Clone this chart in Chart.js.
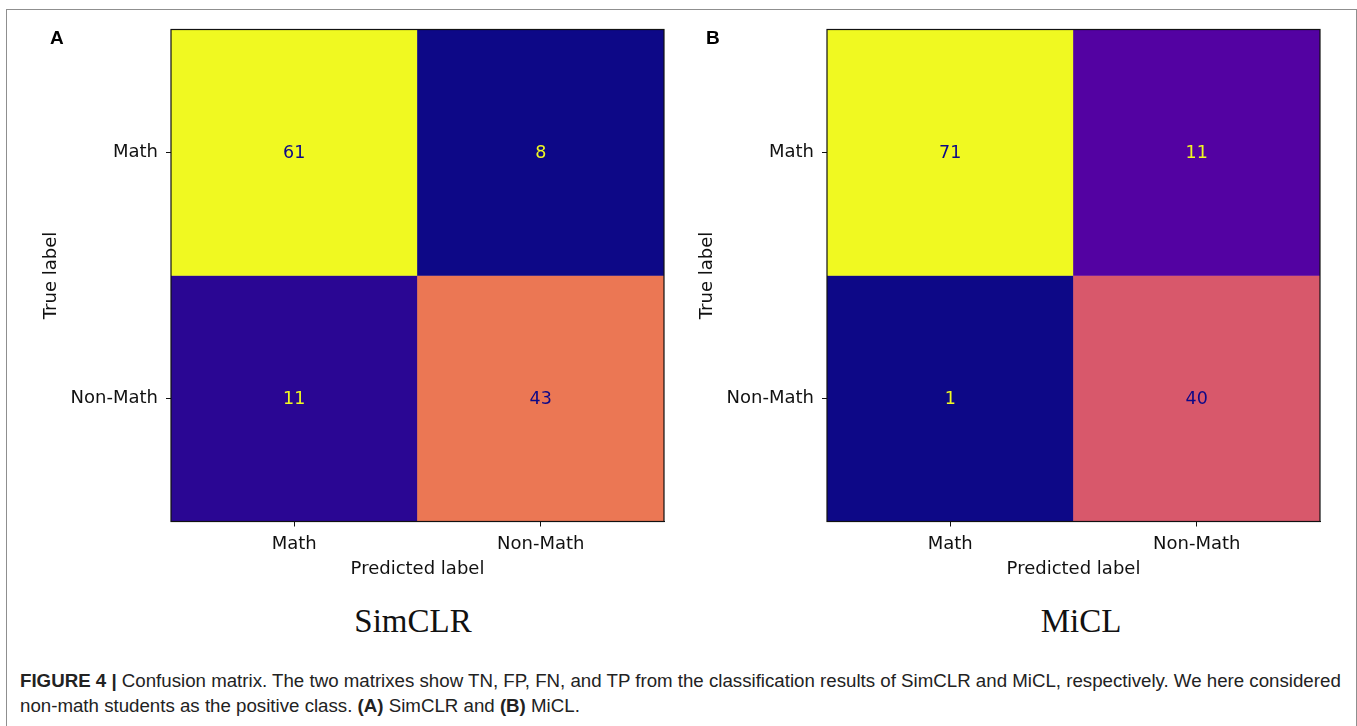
<!DOCTYPE html>
<html>
<head>
<meta charset="utf-8">
<script src="https://cdn.jsdelivr.net/npm/chart.js@4.4.1/dist/chart.umd.min.js"></script>
<style>
  html, body { margin: 0; padding: 0; background: #fff; width: 1357px; height: 726px; overflow: hidden; }
  #frame { position: absolute; left: 6px; top: 9px; width: 1351px; height: 760px; border: 1.5px solid #8f8f8f; box-sizing: border-box; }
  .panel { position: absolute; top: 0; width: 680px; height: 583px; }
  .tag { position: absolute; top: 27px; font: bold 19px "Liberation Sans", Arial, sans-serif; color: #000; }
  .model { position: absolute; top: 605px; font: 33px/33px "Liberation Serif", "Times New Roman", serif; color: #111; transform: translateX(-50%); white-space: nowrap; }
  #caption { position: absolute; left: 20px; top: 668px; width: 1335px; font: 18.7px/25px "Liberation Sans", Arial, sans-serif; color: #222; white-space: nowrap; }
</style>
</head>
<body>
<div id="frame"></div>
<div class="panel" style="left:0px"><canvas id="simclr"></canvas></div>
<div class="panel" style="left:656px"><canvas id="micl"></canvas></div>
<div class="tag" style="left:50px">A</div>
<div class="tag" style="left:706px">B</div>
<div class="model" style="left:413px">SimCLR</div>
<div class="model" style="left:1081px">MiCL</div>
<div id="caption"><b>FIGURE 4 |</b> Confusion matrix. The two matrixes show TN, FP, FN, and TP from the classification results of SimCLR and MiCL, respectively. We here considered<br>non-math students as the positive class. <b>(A)</b> SimCLR and <b>(B)</b> MiCL.</div>

<script>
// Class labels for both axes
const predictedLabels = ['Math', 'Non-Math'];
const trueLabels = ['Math', 'Non-Math'];

// Confusion counts, rows = true label, columns = predicted label
const simclrCounts = [[61, 8], [11, 43]];
const miclCounts = [[71, 11], [1, 40]];

// Plasma colormap anchor colours (0.0 .. 1.0 in steps of 0.1)
const plasmaStops = [
  [13, 8, 135], [65, 4, 157], [106, 0, 168], [143, 13, 164], [177, 42, 144],
  [204, 71, 120], [225, 100, 98], [242, 132, 75], [252, 166, 54], [252, 206, 37], [240, 249, 33]
];

function plasma(t) {
  t = Math.max(0, Math.min(1, t));
  const pos = t * (plasmaStops.length - 1);
  const i = Math.min(Math.floor(pos), plasmaStops.length - 2);
  const f = pos - i;
  const a = plasmaStops[i], b = plasmaStops[i + 1];
  const c = a.map((v, k) => Math.round(v + (b[k] - v) * f));
  return `rgb(${c[0]},${c[1]},${c[2]})`;
}

Chart.defaults.font.family = '"DejaVu Sans", sans-serif';
Chart.defaults.font.size = 18;
Chart.defaults.color = '#111';

// Writes each count in the middle of its cell, dark on bright cells and bright on dark ones
const cellText = {
  id: 'cellText',
  afterDatasetsDraw(chart) {
    const { ctx } = chart;
    const opts = chart.options.plugins.cellText;
    ctx.save();
    ctx.font = '17.5px "DejaVu Sans", sans-serif';
    ctx.textAlign = 'center';
    ctx.textBaseline = 'middle';
    chart.data.datasets.forEach((ds, i) => {
      chart.getDatasetMeta(i).data.forEach((el, j) => {
        const v = ds.data[j].v;
        ctx.fillStyle = v > opts.mid ? plasma(0) : plasma(1);
        ctx.fillText(String(v), el.x, (el.y + el.base) / 2 + 1);
      });
    });
    ctx.restore();
  },
  afterDraw(chart) {
    const { ctx, chartArea: a } = chart;
    ctx.save();
    ctx.strokeStyle = '#111';
    ctx.lineWidth = 1.2;
    ctx.strokeRect(a.left, a.top, a.right - a.left, a.bottom - a.top);
    ctx.restore();
  }
};

function makeMatrix(id, counts) {
  const flat = counts.flat();
  const lo = Math.min(...flat), hi = Math.max(...flat);
  const datasets = trueLabels.map((row, i) => ({
    label: row,
    data: predictedLabels.map((p, j) => ({ x: p, y: [i - 0.5, i + 0.5], v: counts[i][j] })),
    backgroundColor: counts[i].map(v => plasma((v - lo) / (hi - lo))),
    borderWidth: 0,
    grouped: false,
    barPercentage: 1,
    categoryPercentage: 1
  }));

  return new Chart(document.getElementById(id), {
    type: 'bar',
    data: { labels: predictedLabels, datasets },
    plugins: [cellText],
    options: {
      responsive: true,
      maintainAspectRatio: false,
      animation: false,
      layout: { padding: { left: 0, top: 29.5, right: 16, bottom: 0 } },
      plugins: {
        legend: { display: false },
        tooltip: { enabled: false },
        cellText: { mid: (lo + hi) / 2 }
      },
      scales: {
        x: {
          type: 'category',
          offset: true,
          grid: { display: true, offset: false, drawOnChartArea: false, drawTicks: true, tickLength: 5, color: '#111', tickWidth: 1 },
          border: { display: true, color: '#111', width: 1 },
          ticks: { padding: 7, maxRotation: 0, autoSkip: false, color: '#111' },
          title: { display: true, text: 'Predicted label', color: '#111', font: { size: 18 }, padding: { top: 0, bottom: 2.5 } },
          afterFit(scale) { scale.height = 61.5; }
        },
        y: {
          type: 'linear',
          reverse: true,
          min: -0.5,
          max: 1.5,
          afterBuildTicks(scale) { scale.ticks = trueLabels.map((_, i) => ({ value: i })); },
          grid: { display: true, drawOnChartArea: false, drawTicks: true, tickLength: 5, color: '#111', tickWidth: 1 },
          border: { display: true, color: '#111', width: 1 },
          ticks: { padding: 8, color: '#111', callback: v => trueLabels[v] },
          title: { display: true, text: 'True label', color: '#111', font: { size: 18 }, padding: { top: 41, bottom: 0 } },
          afterFit(scale) { scale.width = 171; }
        }
      }
    }
  });
}

makeMatrix('simclr', simclrCounts);
makeMatrix('micl', miclCounts);
</script>
</body>
</html>
